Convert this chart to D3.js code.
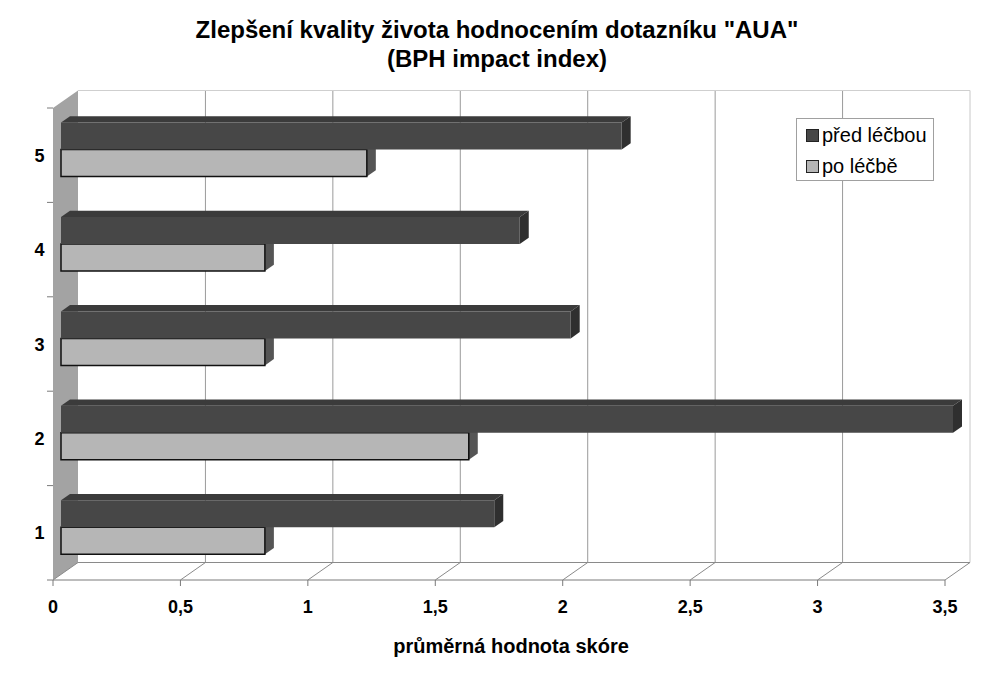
<!DOCTYPE html>
<html>
<head>
<meta charset="utf-8">
<script src="https://cdn.jsdelivr.net/npm/d3@7"></script>
<style>
  body { margin: 0; background: #fff; }
  text { font-family: "Liberation Sans", Arial, sans-serif; }
</style>
</head>
<body>
<svg id="chart" width="1004" height="675"></svg>
<script>
// data
const categories = ["1", "2", "3", "4", "5"];
const seriesNames = ["před léčbou", "po léčbě"];
const predLecbou = [1.7, 3.5, 2.0, 1.8, 2.2];
const poLecbe = [0.8, 1.6, 0.8, 0.8, 1.2];
const xTicks = [0, 0.5, 1, 1.5, 2, 2.5, 3, 3.5];
const xTickLabels = ["0", "0,5", "1", "1,5", "2", "2,5", "3", "3,5"];

const svg = d3.select("#chart");

// front plane scales, depth goes up and to the right
const x = d3.scaleLinear().domain([0, 3.5]).range([53, 945]);
const y = d3.scaleBand().domain(categories.slice().reverse()).range([108, 580])
  .paddingInner(0.428).paddingOuter(0.214);
const yAll = d3.scaleBand().domain(categories.slice().reverse()).range([108, 580]);
const ySub = d3.scaleBand().domain(seriesNames).range([0, y.bandwidth()]);
const depthX = 25, depthY = -17.5;
const z0 = 0.32, z1 = 0.68;

const P = (v, yy, z) => [x(v) + depthX * z, yy + depthY * z];
const poly = pts => pts.map(p => p.join(",")).join(" ");

const yTop = 108, yBot = 580;

// left wall
svg.append("polygon")
  .attr("points", poly([P(0, yTop, 0), P(0, yTop, 1), P(0, yBot, 1), P(0, yBot, 0)]))
  .attr("fill", "#a3a3a3");

// back wall gridlines
svg.append("g").selectAll("line").data(xTicks.slice(1)).join("line")
  .attr("x1", d => P(d, yTop, 1)[0]).attr("y1", d => P(d, yTop, 1)[1])
  .attr("x2", d => P(d, yBot, 1)[0]).attr("y2", d => P(d, yBot, 1)[1])
  .attr("stroke", (d, i) => i == xTicks.length - 2 ? "#c8c8c8" : "#9a9a9a")
  .attr("stroke-width", 1);

// top edge of back wall
svg.append("line")
  .attr("x1", P(0, yTop, 1)[0]).attr("y1", P(0, yTop, 1)[1])
  .attr("x2", P(3.5, yTop, 1)[0]).attr("y2", P(3.5, yTop, 1)[1])
  .attr("stroke", "#cfcfcf");

// floor
svg.append("line")
  .attr("x1", P(0, yBot, 1)[0]).attr("y1", P(0, yBot, 1)[1])
  .attr("x2", P(3.5, yBot, 1)[0]).attr("y2", P(3.5, yBot, 1)[1])
  .attr("stroke", "#8a8a8a");
svg.append("line")
  .attr("x1", x(0)).attr("y1", yBot).attr("x2", x(3.5)).attr("y2", yBot)
  .attr("stroke", "#7a7a7a");
svg.append("g").selectAll("line").data(xTicks).join("line")
  .attr("x1", d => P(d, yBot, 0)[0]).attr("y1", yBot)
  .attr("x2", d => P(d, yBot, 1)[0]).attr("y2", d => P(d, yBot, 1)[1])
  .attr("stroke", "#8a8a8a");

// x ticks
svg.append("g").selectAll("line").data(xTicks).join("line")
  .attr("x1", d => x(d)).attr("x2", d => x(d))
  .attr("y1", yBot).attr("y2", yBot + 6)
  .attr("stroke", "#7a7a7a");

// category ticks
const catEdges = categories.slice().reverse().map(c => yAll(c)).concat([yBot]);
svg.append("g").selectAll("line").data(catEdges).join("line")
  .attr("x1", x(0) - 6).attr("x2", x(0))
  .attr("y1", d => d).attr("y2", d => d)
  .attr("stroke", "#7a7a7a");

// bars, drawn bottom up so upper bars cover lower ones
const colors = {
  "před léčbou": { front: "#474747", top: "#3b3b3b", side: "#2f2f2f", stroke: "none" },
  "po léčbě": { front: "#b6b6b6", top: "#9a9a9a", side: "#555555", stroke: "#111" }
};
const rows = [];
categories.forEach((c, i) => {
  rows.push({ cat: c, s: "po léčbě", v: poLecbe[i] });
  rows.push({ cat: c, s: "před léčbou", v: predLecbou[i] });
});

const bars = svg.append("g").selectAll("g").data(rows).join("g");
bars.each(function(d) {
  const g = d3.select(this);
  const y0 = y(d.cat) + ySub(d.s);
  const y1 = y0 + ySub.bandwidth();
  const col = colors[d.s];
  g.append("polygon")
    .attr("points", poly([P(0, y0, z0), P(d.v, y0, z0), P(d.v, y0, z1), P(0, y0, z1)]))
    .attr("fill", col.top);
  g.append("polygon")
    .attr("points", poly([P(d.v, y0, z0), P(d.v, y0, z1), P(d.v, y1, z1), P(d.v, y1, z0)]))
    .attr("fill", col.side);
  g.append("polygon")
    .attr("points", poly([P(0, y0, z0), P(d.v, y0, z0), P(d.v, y1, z0), P(0, y1, z0)]))
    .attr("fill", col.front)
    .attr("stroke", col.stroke).attr("stroke-width", 1.5);
});

// tick labels
svg.append("g").selectAll("text").data(xTicks).join("text")
  .attr("x", d => x(d)).attr("y", 613)
  .attr("text-anchor", "middle")
  .attr("font-size", 18).attr("font-weight", "bold")
  .text((d, i) => xTickLabels[i]);

svg.append("g").selectAll("text").data(categories).join("text")
  .attr("x", 39.5).attr("y", d => yAll(d) + yAll.bandwidth() / 2 + 6.5)
  .attr("text-anchor", "middle")
  .attr("font-size", 18).attr("font-weight", "bold")
  .text(d => d);

// titles
svg.append("text").attr("x", 497).attr("y", 38)
  .attr("text-anchor", "middle").attr("font-size", 24).attr("font-weight", "bold")
  .text("Zlepšení kvality života hodnocením dotazníku \"AUA\"");
svg.append("text").attr("x", 497).attr("y", 67)
  .attr("text-anchor", "middle").attr("font-size", 24).attr("font-weight", "bold")
  .text("(BPH impact index)");
svg.append("text").attr("x", 511).attr("y", 653)
  .attr("text-anchor", "middle").attr("font-size", 20).attr("font-weight", "bold")
  .text("průměrná hodnota skóre");

// legend
const legend = svg.append("g");
legend.append("rect").attr("x", 796.5).attr("y", 118.5).attr("width", 137).attr("height", 62)
  .attr("fill", "#fff").attr("stroke", "#a0a0a0");
seriesNames.forEach((s, i) => {
  legend.append("rect").attr("x", 806.5).attr("y", 129.5 + i * 31).attr("width", 12).attr("height", 12)
    .attr("fill", colors[s].front).attr("stroke", "#222");
  legend.append("text").attr("x", 822).attr("y", 142 + i * 31)
    .attr("font-size", 20).text(s);
});
</script>
</body>
</html>
